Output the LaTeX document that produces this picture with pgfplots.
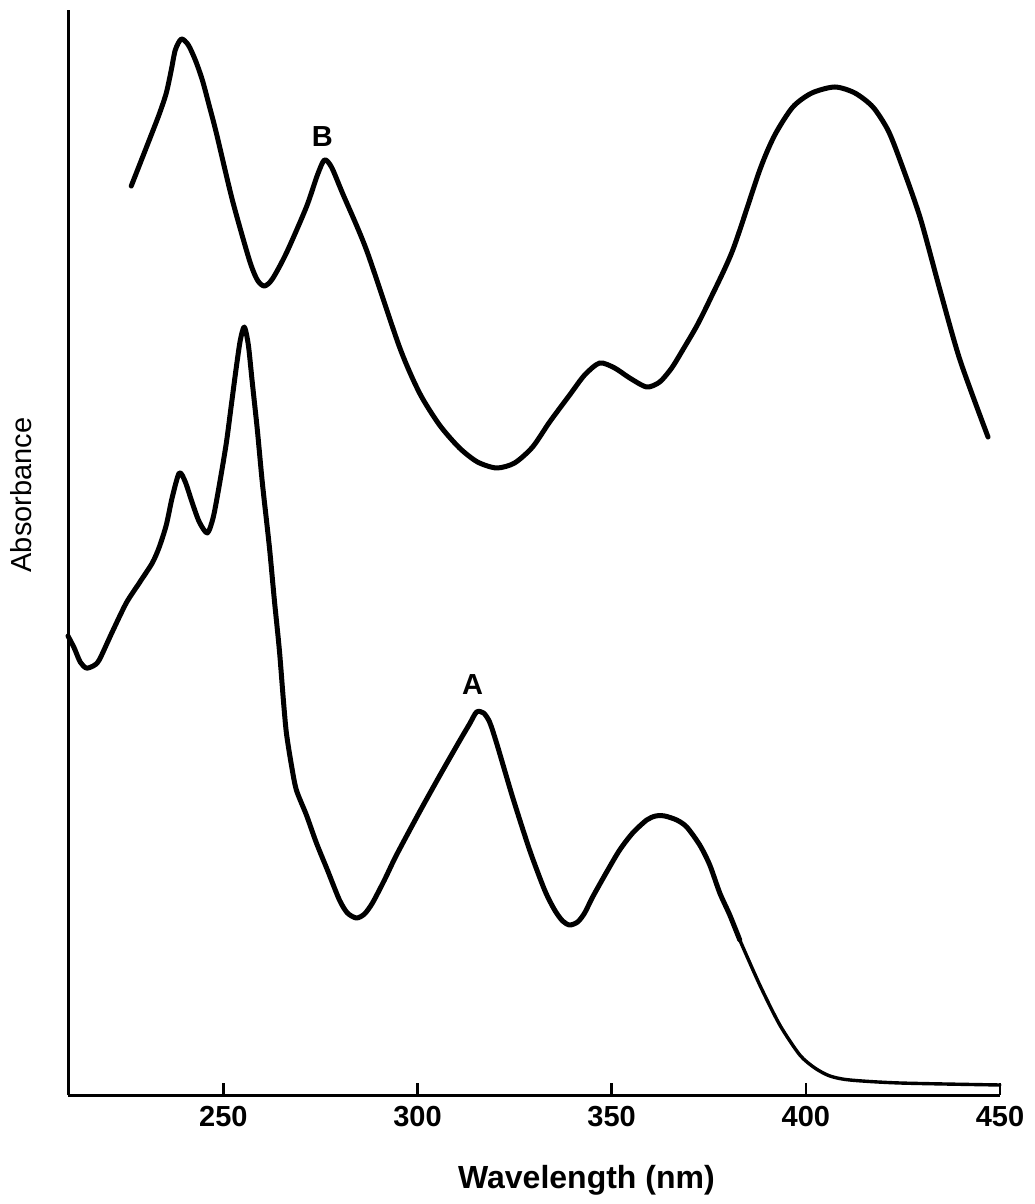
\documentclass[border=0pt]{standalone}
\usepackage{fontspec}
\setmainfont{Liberation Sans}
\usepackage{pgfplots}
\pgfplotsset{compat=1.18}
\begin{document}
\begin{tikzpicture}
\begin{axis}[
  scale only axis,
  width=466pt, height=542.5pt,
  xmin=210, xmax=450, ymin=0, ymax=1085,
  axis x line*=bottom, axis y line*=left,
  axis line style={line width=1.5pt, -},
  xtick={250,300,350,400,450},
  ytick=\empty,
  xtick style={line width=1.2pt, black},
  tick align=inside,
  major tick length=6pt,
  /pgf/number format/assume math mode=true,
  tick label style={font=\bfseries\fontsize{14.5}{14.5}\selectfont},
  xticklabel style={yshift=-2pt},
  clip=false,
]
% Curve B
\addplot[black, line width=2.5pt, smooth, tension=0.45, line cap=round, line join=round] coordinates {
(226.29,909) (228.61,932) (230.93,955) (233.51,981) (235.31,1002) (236.60,1025)
(237.63,1045) (239.18,1056) (240.98,1050) (242.78,1035) (244.59,1015) (246.39,989)
(248.20,962) (252.32,895) (256.70,835) (258.76,815) (260.57,809) (262.63,816)
(266.24,842) (271.39,888) (274.23,920) (276.03,935) (277.84,928) (280.67,902)
(286.86,845) (295.36,748) (300.52,702) (305.67,670) (310.82,647) (315.46,633)
(320.36,627) (325.00,632) (329.64,648) (334.02,673) (339.18,700) (343.04,720)
(346.91,732) (350.77,727) (354.64,717) (359.02,708) (362.37,713) (365.46,727)
(368.30,745) (371.91,769) (375.26,795) (381.19,845) (388.14,925) (392.01,960)
(396.65,988) (401.55,1002) (407.47,1008) (412.63,1002) (417.27,988) (421.13,965)
(424.23,935) (429.38,878) (434.54,805) (439.69,735) (446.91,658)
};
% Curve A (main part)
\addplot[black, line width=2.5pt, smooth, tension=0.45, line cap=round, line join=round] coordinates {
(210.00,459) (211.60,447) (213.14,433) (214.69,427) (216.49,429) (218.04,435)
(221.39,463) (225.00,492) (228.35,512) (231.70,532) (233.51,548) (235.31,570)
(236.86,598) (238.66,622) (240.21,613) (242.01,592) (243.81,573) (245.88,562)
(247.42,578) (248.97,610) (250.77,652) (252.06,690) (253.35,728) (254.38,755)
(255.41,768) (256.44,750) (257.47,712) (258.76,665) (260.05,612) (261.86,548)
(263.14,495) (264.43,445) (265.46,395) (266.24,362) (267.53,330) (268.81,305)
(271.39,280) (273.97,252) (276.80,225) (279.90,195) (281.96,182) (284.28,177)
(286.34,181) (288.40,192) (291.49,215) (294.59,240) (300.52,283) (305.67,319)
(310.82,354) (313.40,371) (315.21,383) (317.01,382) (318.56,373) (320.36,352)
(324.48,298) (328.87,245) (332.73,205) (335.31,185) (337.37,174) (339.18,170)
(341.24,173) (343.04,182) (345.10,198) (348.71,223) (352.06,245) (355.41,262)
(359.02,275) (361.34,279) (363.66,279) (366.75,275) (369.33,268) (372.68,250)
(375.26,230) (377.84,202) (380.41,180) (382.99,155)
};
% Curve A (tail, thinner)
\addplot[black, line width=1.7pt, smooth, tension=0.45, line cap=round] coordinates {
(382.99,155) (388.14,110) (393.30,70) (398.45,40) (402.32,27) (406.19,19)
(411.34,15) (424.23,12) (450.00,10)
};
\node[font=\bfseries\fontsize{14.5}{14.5}\selectfont] at (axis cs:275.5,958) {B};
\node[font=\bfseries\fontsize{14.5}{14.5}\selectfont] at (axis cs:314.2,410) {A};
\node[font=\fontsize{14.5}{14.5}\selectfont, rotate=90] at (axis cs:198,600) {Absorbance};
\node[font=\bfseries\fontsize{16}{16}\selectfont] at (axis cs:343.5,-85) {Wavelength (nm)};
\end{axis}
\pgfresetboundingbox
\path (-34pt,-54.5pt) rectangle (483pt,547.5pt);
\end{tikzpicture}
\end{document}
